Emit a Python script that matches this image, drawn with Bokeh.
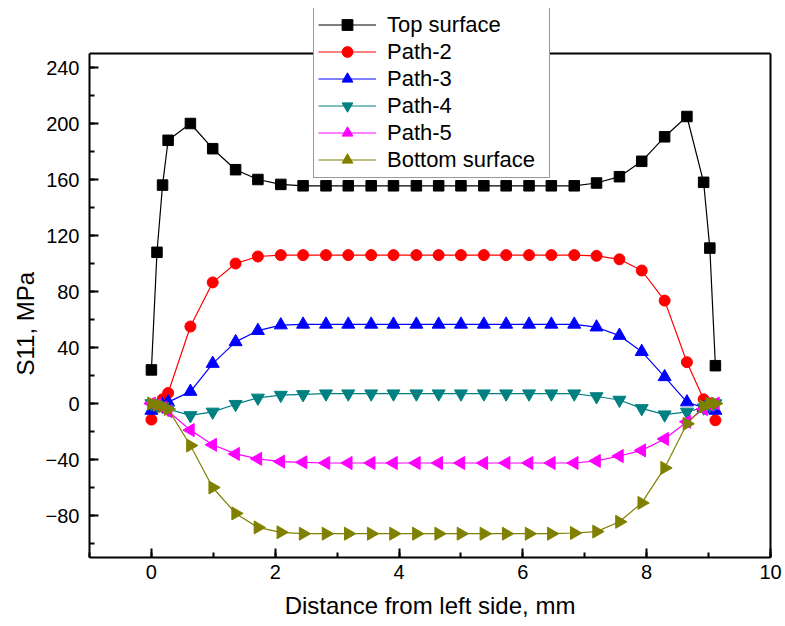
import numpy as np
from bokeh.plotting import figure
from bokeh.models import (Range1d, SingleIntervalTicker, FixedTicker, Legend, LegendItem,
                          LinearAxis, Span, Title)
from bokeh.embed import file_html
from bokeh.resources import INLINE

# ---- data ----
x_mm = [0, 0.09, 0.18, 0.27, 0.63, 0.99, 1.36, 1.72, 2.09, 2.45, 2.82, 3.18, 3.55, 3.91,
        4.28, 4.64, 5.00, 5.37, 5.73, 6.10, 6.46, 6.83, 7.19, 7.56, 7.92, 8.29, 8.65,
        8.92, 9.02, 9.11]

top_surface = [24, 108, 156, 188, 200, 182, 167, 160, 156.5, 155.5, 155.5, 155.5, 155.5,
               155.5, 155.5, 155.5, 155.5, 155.5, 155.5, 155.5, 155.5, 155.5, 157.5, 162,
               173, 190.5, 205, 158, 111, 27]
path_2 = [-11.5, -2, 3, 7.5, 55, 86.5, 100, 105, 106, 106, 106, 106, 106, 106, 106, 106,
          106, 106, 106, 106, 106, 106, 105.5, 103, 95, 73.5, 29.5, 3, 0, -12]
path_3 = [-5, -3, -1, 1, 8.5, 28.5, 44, 52, 56, 56.5, 56.5, 56.5, 56.5, 56.5, 56.5, 56.5,
          56.5, 56.5, 56.5, 56.5, 56.5, 56.5, 54.5, 48.5, 37, 19, 1, -3, -4, -5]
path_4 = [0, -1, -2, -4, -8.5, -6, -0.5, 4, 6, 6.5, 7, 7, 7, 7, 7, 7, 7, 7, 7, 7, 7, 7,
          5, 2.5, -3.5, -8, -6, -3, -1, 0]
path_5 = [0, -1, -3, -5.5, -19, -29.5, -36, -39.5, -41.5, -42, -42.5, -42.5, -42.5, -42.5,
          -42.5, -42.5, -42.5, -42.5, -42.5, -42.5, -42.5, -42.5, -41, -37.5, -33.5, -25.3,
          -13, -4, -1, 0]
bottom_surface = [0, -1, -2, -4, -30, -60, -78.5, -88.5, -92, -93, -93, -93, -93, -93, -93,
                  -93, -93, -93, -93, -93, -93, -92.5, -91.5, -84.5, -71, -46, -14.5, -2, 0, 0]

series_names = ["Top surface", "Path-2", "Path-3", "Path-4", "Path-5", "Bottom surface"]
series_values = [top_surface, path_2, path_3, path_4, path_5, bottom_surface]
series_colors = ["#000000", "#FF0000", "#0000FF", "#008080", "#FF00FF", "#808000"]
series_markers = ["square", "circle", "triangle", "inverted_triangle", "triangle", "triangle"]
series_angles = [0, 0, 0, 0, np.pi / 2, -np.pi / 2]
series_sizes = [10.5, 11, 13, 13, 13, 13]

x_label = "Distance from left side, mm"
y_label = "S11, MPa"

X_MIN, X_MAX = -1, 10
Y_MIN, Y_MAX = -110, 250
FONT = "Liberation Sans"

# the plotting frame extends a little above the drawn box so that the legend
# (which sits partly above the box in the reference) is not clipped
W, H = 785, 626
BORDER_L, BORDER_R, BORDER_T, BORDER_B = 89, 15, 8, 69
BOX_TOP_PX = 53
frame_h = H - BORDER_T - BORDER_B
box_h = H - BOX_TOP_PX - BORDER_B
y_top = Y_MIN + (Y_MAX - Y_MIN) * frame_h / box_h

p = figure(width=W, height=H, output_backend="svg", toolbar_location=None,
           x_range=Range1d(X_MIN, X_MAX), y_range=Range1d(Y_MIN, y_top))
p.min_border_left = BORDER_L
p.min_border_right = BORDER_R
p.min_border_top = BORDER_T
p.min_border_bottom = BORDER_B
p.background_fill_color = "white"
p.border_fill_color = "white"
p.outline_line_color = None
p.xgrid.visible = False
p.ygrid.visible = False

p.xaxis.ticker = SingleIntervalTicker(interval=2, num_minor_ticks=2)
p.yaxis.ticker = SingleIntervalTicker(interval=40, num_minor_ticks=2)
p.yaxis.bounds = (Y_MIN, Y_MAX)
for ax in (p.xaxis[0], p.yaxis[0]):
    ax.axis_line_color = "black"
    ax.axis_line_width = 2
    ax.major_tick_in = 9
    ax.major_tick_out = 0
    ax.minor_tick_in = 5
    ax.minor_tick_out = 0
    ax.major_tick_line_width = 2
    ax.minor_tick_line_width = 2
    ax.major_tick_line_color = "black"
    ax.minor_tick_line_color = "black"
    ax.major_label_text_font = FONT
    ax.major_label_text_font_size = "20px"
    ax.major_label_text_color = "black"
    ax.axis_label_text_font = FONT
    ax.axis_label_text_font_size = "24px"
    ax.axis_label_text_font_style = "normal"
    ax.axis_label_text_color = "black"

p.xaxis.axis_label = x_label
p.xaxis.major_label_standoff = 7
p.xaxis.axis_label_standoff = 10
p.yaxis.major_label_standoff = 10

# y-axis title as a side title, so that it can sit a little below the middle of the box
Y_TITLE_BOTTOM_PX = 375
p.add_layout(Title(text=y_label, align="left", offset=(H - BORDER_B) - Y_TITLE_BOTTOM_PX,
                   text_font=FONT, text_font_size="24px", text_font_style="normal",
                   text_color="black", standoff=8), "left")

# right side and top side of the box
right_axis = LinearAxis(ticker=FixedTicker(ticks=[]), bounds=(Y_MIN, Y_MAX),
                        axis_line_color="black", axis_line_width=2,
                        major_tick_in=0, major_tick_out=0, minor_tick_in=0, minor_tick_out=0)
p.add_layout(right_axis, "right")
p.add_layout(Span(location=Y_MAX, dimension="width", line_color="black", line_width=2))

items = []
for name, vals, col, mk, ang, sz in zip(series_names, series_values, series_colors,
                                          series_markers, series_angles, series_sizes):
    lr = p.line(x_mm, vals, line_color=col, line_width=1.2)
    sr = p.scatter(x_mm, vals, marker=mk, angle=ang, size=sz, fill_color=col,
                   line_color=col, line_width=1)
    items.append(LegendItem(label=name, renderers=[lr, sr]))

legend = Legend(items=items, location=(313 - BORDER_L, H - BORDER_B - 178))
legend.glyph_width = 58
legend.glyph_height = 27
legend.label_standoff = 11
legend.label_width = 158
legend.label_height = 27
legend.spacing = 0
legend.padding = 4
legend.margin = 0
legend.label_text_font = FONT
legend.label_text_font_size = "22px"
legend.label_text_color = "black"
legend.border_line_color = "#333333"
legend.border_line_width = 1.5
legend.background_fill_color = "white"
legend.background_fill_alpha = 1.0
p.add_layout(legend, "center")

open("out.html", "w").write(file_html(p, INLINE))
